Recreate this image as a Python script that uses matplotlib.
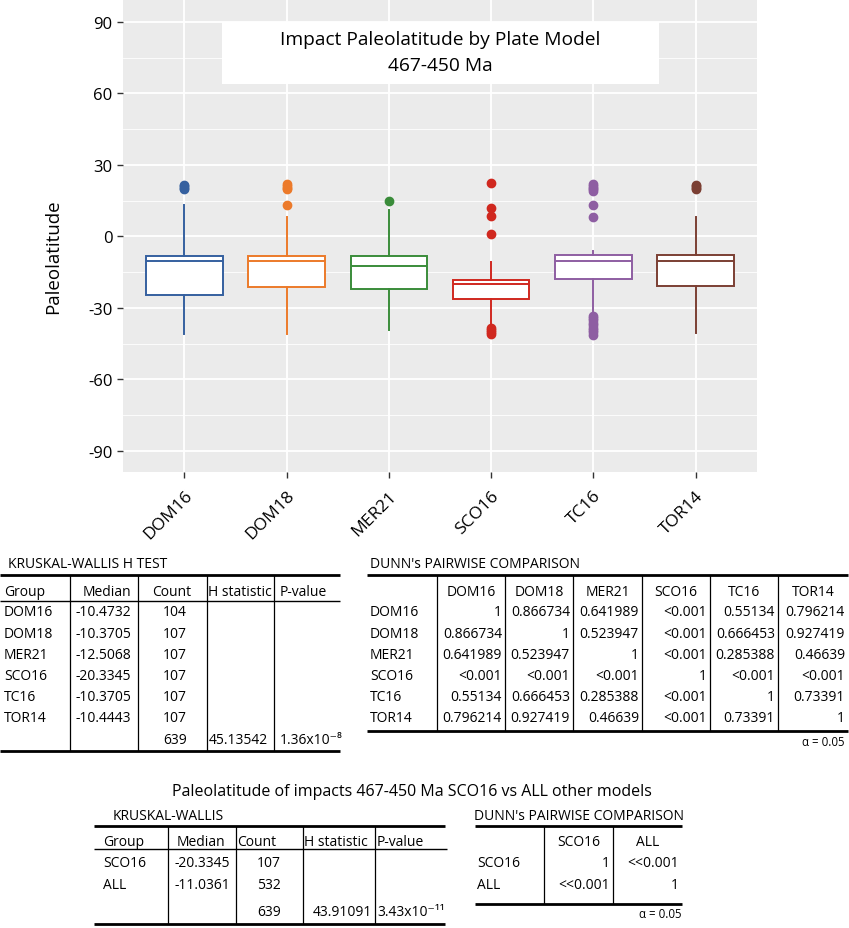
import matplotlib
matplotlib.use("Agg")
import matplotlib.pyplot as plt
from matplotlib.patches import Rectangle

FONT = ["Open Sans", "DejaVu Sans"]
plt.rcParams["font.family"] = FONT
plt.rcParams["axes.unicode_minus"] = False

# box plot data
models = ["DOM16", "DOM18", "MER21", "SCO16", "TC16", "TOR14"]
colors = ["#35609f", "#ec7a2a", "#3a8c3a", "#d0281f", "#8e5ea2", "#7b3f33"]
q1 = [-24.5, -21.2, -22.2, -26.4, -17.8, -20.8]
medians = [-10.5, -10.4, -12.4, -20.1, -10.1, -10.4]
q3 = [-8.0, -8.0, -8.0, -18.2, -7.7, -7.7]
whisker_lo = [-40.8, -40.8, -39.2, -37.3, -32.4, -40.4]
whisker_hi = [13.3, 8.1, 11.3, -10.7, -5.9, 8.1]
outliers = [
    [19.8, 20.4, 21.0, 21.6],
    [13.4, 19.8, 20.5, 21.2, 21.8],
    [15.0],
    [22.4, 12.0, 8.4, 1.1, -38.3, -39.2, -40.0, -40.8],
    [21.9, 21.2, 20.5, 19.8, 19.2, 13.4, 8.1, -33.2, -34.2, -35.2, -36.2,
     -37.2, -38.2, -39.2, -40.2, -41.2],
    [19.8, 20.4, 21.0, 21.6],
]
y_ticks = [-90, -60, -30, 0, 30, 60, 90]

# Kruskal-Wallis table, all models
kw_header = ["Group", "Median", "Count", "H statistic", "P-value"]
kw_median = ["-10.4732", "-10.3705", "-12.5068", "-20.3345", "-10.3705", "-10.4443"]
kw_count = ["104", "107", "107", "107", "107", "107"]
kw_total = "639"
kw_h = "45.13542"
kw_p = "1.36x10\u207b\u2078"

# Dunn pairwise, all models
dunn = [
    ["1", "0.866734", "0.641989", "<0.001", "0.55134", "0.796214"],
    ["0.866734", "1", "0.523947", "<0.001", "0.666453", "0.927419"],
    ["0.641989", "0.523947", "1", "<0.001", "0.285388", "0.46639"],
    ["<0.001", "<0.001", "<0.001", "1", "<0.001", "<0.001"],
    ["0.55134", "0.666453", "0.285388", "<0.001", "1", "0.73391"],
    ["0.796214", "0.927419", "0.46639", "<0.001", "0.73391", "1"],
]

# SCO16 vs ALL
sub_groups = ["SCO16", "ALL"]
sub_median = ["-20.3345", "-11.0361"]
sub_count = ["107", "532"]
sub_total = "639"
sub_h = "43.91091"
sub_p = "3.43x10\u207b\u00b9\u00b9"
sub_dunn = [["1", "<<0.001"], ["<<0.001", "1"]]

TS = 10  # table font size


def draw_boxes(ax):
    stats = []
    for i in range(len(models)):
        stats.append(dict(med=medians[i], q1=q1[i], q3=q3[i],
                          whislo=whisker_lo[i], whishi=whisker_hi[i],
                          fliers=outliers[i]))
    art = ax.bxp(stats, positions=range(1, len(models) + 1), widths=0.75,
                 patch_artist=True, showcaps=False)
    for i, c in enumerate(colors):
        art["boxes"][i].set(facecolor="white", edgecolor=c, linewidth=1.4, zorder=3)
        art["medians"][i].set(color=c, linewidth=1.4, zorder=4)
        for w in art["whiskers"][2 * i:2 * i + 2]:
            w.set(color=c, linewidth=1.4, zorder=3)
        art["fliers"][i].set(marker="o", markersize=6, markerfacecolor=c,
                             markeredgecolor=c, zorder=3)


def hline(t, y, x0, x1, lw):
    t.plot([x0, x1], [y, y], color="black", lw=lw, solid_capstyle="butt")


def vline(t, x, y0, y1):
    t.plot([x, x], [y0, y1], color="black", lw=0.9, solid_capstyle="butt")


def txt(t, x, y, s, ha="left", size=TS):
    t.text(x, y, s, ha=ha, va="center", fontsize=size, color="black")


fig = plt.figure(figsize=(8.49, 9.29), dpi=100)
ax = fig.add_axes([123 / 849, 1 - 473 / 929, 634 / 849, 473 / 929])
ax.set_facecolor("#EBEBEB")
for s in ax.spines.values():
    s.set_visible(False)
draw_boxes(ax)
ax.set_xlim(0.4, 6.6)
ax.set_ylim(-98.8, 99.6)
ax.set_yticks(y_ticks)
ax.set_yticks([-75, -45, -15, 15, 45, 75], minor=True)
ax.set_xticks(range(1, len(models) + 1))
ax.set_xticklabels(models, rotation=45, ha="right", va="top",
                   rotation_mode="anchor", fontsize=12.5)
ax.tick_params(axis="y", which="major", labelsize=12)
ax.tick_params(axis="both", which="major", color="#333333", length=4, width=1,
               labelcolor="black")
ax.tick_params(axis="x", pad=7)
ax.tick_params(which="minor", length=0)
ax.grid(which="major", color="white", lw=1.3)
ax.grid(which="minor", axis="y", color="white", lw=0.6)
ax.set_axisbelow(True)
ax.set_ylabel("Paleolatitude", fontsize=13.5)
ax.yaxis.set_label_coords((62 - 123) / 634, (473 - 257) / 473)

ax.add_patch(Rectangle((1.37, 64), 4.27, 26, facecolor="white",
                       edgecolor="none", zorder=2))
ax.text(3.5, 83, "Impact Paleolatitude by Plate Model", ha="center",
        va="center", fontsize=13.8, zorder=5)
ax.text(3.5, 72, "467-450 Ma", ha="center", va="center", fontsize=13.8, zorder=5)

# overlay in pixel coordinates for the tables
t = fig.add_axes([0, 0, 1, 1])
t.set_xlim(0, 849)
t.set_ylim(929, 0)
t.axis("off")

# Kruskal-Wallis (left)
txt(t, 8, 565, "KRUSKAL-WALLIS H TEST")
hline(t, 576, 0, 340, 2)
hline(t, 602, 0, 340, 1)
hline(t, 752, 0, 340, 2)
for x in [70, 138, 207, 274]:
    vline(t, x, 576, 752)
txt(t, 4, 592, kw_header[0])
txt(t, 131, 592, kw_header[1], ha="right")
txt(t, 152, 592, kw_header[2])
txt(t, 208, 592, kw_header[3])
txt(t, 280, 592, kw_header[4])
for i, g in enumerate(models):
    y = 613 + 21.2 * i
    txt(t, 4, y, g)
    txt(t, 131, y, kw_median[i], ha="right")
    txt(t, 163, y, kw_count[i])
txt(t, 163, 741, kw_total)
txt(t, 268, 741, kw_h, ha="right")
txt(t, 280, 741, kw_p)

# Dunn (right)
txt(t, 370, 565, "DUNN's PAIRWISE COMPARISON")
hline(t, 576, 367, 848, 2)
hline(t, 732, 367, 848, 2)
bounds = [437, 505, 573, 642, 710, 778, 848]
for x in bounds[:-1]:
    vline(t, x, 576, 732)
for j, m in enumerate(models):
    txt(t, (bounds[j] + bounds[j + 1]) / 2, 592, m, ha="center")
for i, m in enumerate(models):
    y = 613 + 21.2 * i
    txt(t, 370, y, m)
    for j in range(len(models)):
        txt(t, bounds[j + 1] - 3, y, dunn[i][j], ha="right")
txt(t, 845, 742, "\u03b1 = 0.05", ha="right", size=8.3)

# SCO16 vs ALL
txt(t, 412, 792, "Paleolatitude of impacts 467-450 Ma SCO16 vs ALL other models",
    ha="center", size=11.5)
txt(t, 113, 817, "KRUSKAL-WALLIS")
hline(t, 827, 94, 445, 2)
hline(t, 850, 94, 447, 1)
hline(t, 925, 94, 445, 2)
for x in [168, 236, 303, 375]:
    vline(t, x, 827, 925)
txt(t, 103, 843, kw_header[0])
txt(t, 177, 843, kw_header[1])
txt(t, 237, 843, kw_header[2])
txt(t, 304, 843, kw_header[3])
txt(t, 377, 843, kw_header[4])
for i, g in enumerate(sub_groups):
    y = 864 + 22 * i
    txt(t, 103, y, g)
    txt(t, 230, y, sub_median[i], ha="right")
    txt(t, 257, y, sub_count[i])
txt(t, 257, 913, sub_total)
txt(t, 372, 913, sub_h, ha="right")
txt(t, 377, 913, sub_p)

txt(t, 474, 817, "DUNN's PAIRWISE COMPARISON")
hline(t, 827, 475, 682, 2)
hline(t, 905, 475, 682, 2)
sb = [544, 613, 682]
for x in sb[:-1]:
    vline(t, x, 827, 905)
for j, g in enumerate(sub_groups):
    txt(t, (sb[j] + sb[j + 1]) / 2, 843, g, ha="center")
for i, g in enumerate(sub_groups):
    y = 864 + 22 * i
    txt(t, 477, y, g)
    for j in range(2):
        txt(t, sb[j + 1] - 3, y, sub_dunn[i][j], ha="right")
txt(t, 682, 915, "\u03b1 = 0.05", ha="right", size=8.3)

fig.savefig("out.png", dpi=100)
